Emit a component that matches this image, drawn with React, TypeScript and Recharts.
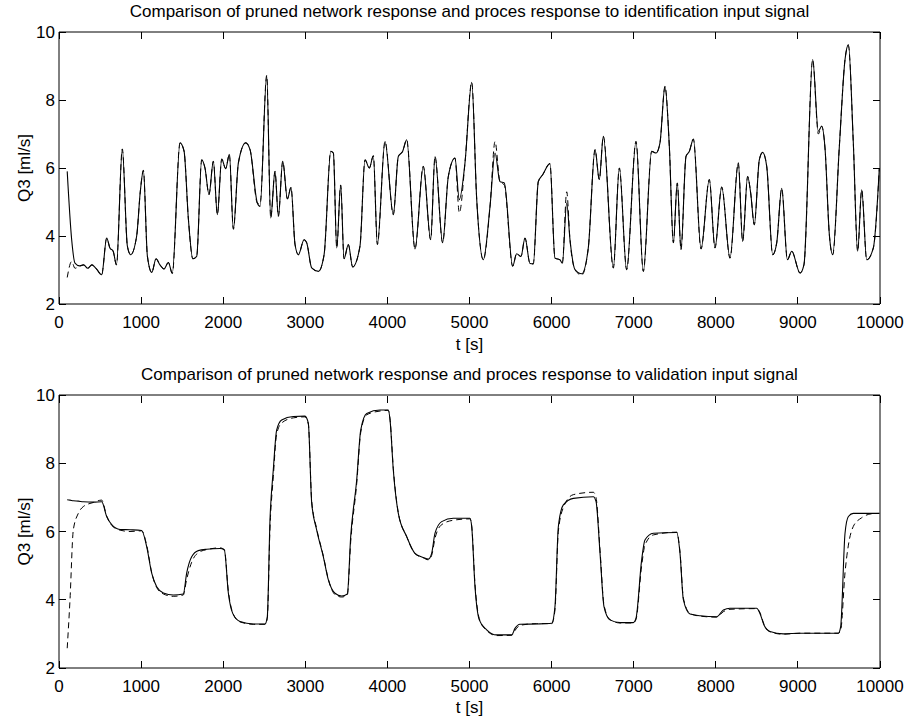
import React from 'react';
import { LineChart, Line, XAxis, YAxis, ReferenceArea } from 'recharts';

// identification input signal (top panel)
const tIdent = [
  100, 154, 195, 250, 300, 350, 400, 450, 520, 581,
  620, 660, 700, 771, 833, 873, 946, 990, 1028, 1077,
  1130, 1182, 1230, 1279, 1332, 1380, 1474, 1523, 1576, 1630,
  1677, 1738, 1778, 1827, 1880, 1929, 1982, 2030, 2075, 2124,
  2185, 2274, 2327, 2416, 2449, 2530, 2579, 2631, 2672, 2725,
  2782, 2826, 2875, 2916, 2985, 3017, 3078, 3160, 3229, 3310,
  3342, 3383, 3431, 3472, 3524, 3577, 3666, 3727, 3780, 3829,
  3878, 3971, 4072, 4133, 4186, 4235, 4336, 4437, 4527, 4580,
  4673, 4742, 4823, 4876, 4945, 5027, 5088, 5168, 5250, 5311,
  5371, 5424, 5526, 5574, 5627, 5676, 5737, 5777, 5838, 5891,
  5980, 6041, 6102, 6131, 6184, 6224, 6285, 6367, 6447, 6529,
  6581, 6630, 6752, 6825, 6914, 7028, 7117, 7219, 7272, 7320,
  7381, 7434, 7483, 7531, 7576, 7637, 7678, 7727, 7820, 7921,
  7990, 8072, 8173, 8274, 8327, 8388, 8425, 8469, 8530, 8571,
  8620, 8693, 8742, 8803, 8872, 8925, 9026, 9074, 9180, 9249,
  9290, 9330, 9383, 9424, 9505, 9574, 9615, 9675, 9728, 9777,
  9838, 9919, 9992,
];

const procIdent = [
  5.9, 3.9, 3.2, 3.12, 3.15, 3.05, 3.15, 3.05, 2.86, 3.94,
  3.65, 3.55, 3.15, 6.56, 3.7, 3.45, 4.0, 5.3, 5.93, 3.4,
  2.93, 3.33, 3.15, 3.03, 3.22, 2.9, 6.74, 6.5, 4.5, 3.33,
  3.4, 6.24, 6.0, 5.22, 6.2, 4.63, 6.26, 5.98, 6.4, 4.2,
  6.15, 6.74, 6.54, 4.97, 4.87, 8.72, 4.53, 5.9, 4.58, 6.2,
  5.09, 5.43, 3.75, 3.45, 3.89, 3.8, 3.06, 2.96, 3.45, 6.49,
  6.44, 3.65, 5.5, 3.33, 3.75, 3.09, 3.7, 6.24, 6.0, 6.36,
  3.75, 6.78, 4.63, 6.34, 6.49, 6.83, 3.62, 6.05, 3.89, 6.34,
  3.8, 5.75, 6.29, 5.07, 6.15, 8.52, 5.07, 3.3, 4.87, 6.44,
  5.6, 5.56, 3.11, 3.48, 3.4, 3.94, 3.19, 3.18, 5.6, 5.8,
  6.13, 3.35, 3.3, 3.2, 4.97, 3.89, 3.01, 2.89, 3.65, 6.54,
  5.66, 6.93, 3.06, 6.0, 3.01, 6.78, 2.96, 6.49, 6.44, 6.74,
  8.4, 6.64, 3.8, 5.56, 3.6, 6.34, 6.49, 6.85, 3.62, 5.66,
  3.65, 5.44, 3.35, 6.15, 3.84, 5.75, 5.26, 4.33, 6.24, 6.46,
  6.05, 3.45, 3.8, 5.4, 3.3, 3.55, 2.91, 3.16, 9.19, 7.08,
  7.23, 6.59, 4.04, 3.45, 6.64, 9.19, 9.63, 6.74, 3.55, 5.36,
  3.3, 3.65, 6.0,
];

const netIdent = [
  2.78, 3.25, 3.05, 3.12, 3.15, 3.05, 3.15, 3.05, 2.86, 3.94,
  3.65, 3.55, 3.15, 6.56, 3.7, 3.45, 4.0, 5.3, 5.93, 3.4,
  2.93, 3.33, 3.15, 3.03, 3.22, 2.9, 6.74, 6.5, 4.5, 3.33,
  3.4, 6.24, 6.0, 5.22, 6.2, 4.63, 6.26, 5.98, 6.4, 4.2,
  6.15, 6.74, 6.54, 4.97, 4.95, 8.72, 4.53, 5.9, 4.58, 6.2,
  5.09, 5.43, 3.75, 3.45, 3.89, 3.8, 3.06, 2.96, 3.45, 6.49,
  6.44, 3.65, 5.5, 3.33, 3.75, 3.09, 3.7, 6.24, 6.0, 6.36,
  3.75, 6.78, 4.63, 6.34, 6.49, 6.83, 3.62, 6.05, 3.89, 6.34,
  3.8, 5.75, 6.29, 4.68, 6.15, 8.52, 5.07, 3.3, 4.87, 6.78,
  5.6, 5.5, 3.11, 3.48, 3.4, 3.94, 3.19, 3.18, 5.6, 5.8,
  6.13, 3.35, 3.3, 3.2, 5.3, 3.89, 3.01, 2.85, 3.65, 6.54,
  5.66, 6.93, 3.06, 6.0, 3.01, 6.78, 2.96, 6.49, 6.44, 6.74,
  8.4, 6.64, 3.8, 5.56, 3.6, 6.34, 6.49, 6.85, 3.62, 5.66,
  3.65, 5.44, 3.35, 6.15, 3.84, 5.75, 5.26, 4.33, 6.24, 6.46,
  6.05, 3.45, 3.8, 5.4, 3.3, 3.55, 2.91, 3.16, 9.19, 7.0,
  7.23, 6.59, 4.04, 3.45, 6.64, 9.19, 9.6, 6.74, 3.55, 5.36,
  3.3, 3.65, 6.0,
];

// validation input signal (bottom panel)
const tValid = [
  100, 134, 174, 235, 296, 418, 520, 581, 642, 743,
  865, 1007, 1068, 1129, 1190, 1271, 1392, 1514, 1555, 1616,
  1697, 1798, 1961, 2014, 2063, 2116, 2205, 2367, 2509, 2537,
  2570, 2610, 2651, 2712, 2854, 2996, 3037, 3078, 3139, 3220,
  3281, 3362, 3443, 3512, 3553, 3626, 3675, 3748, 3910, 4011,
  4032, 4072, 4133, 4235, 4336, 4437, 4498, 4539, 4580, 4661,
  4803, 5006, 5027, 5067, 5119, 5209, 5331, 5514, 5554, 5615,
  5818, 6001, 6041, 6082, 6143, 6265, 6508, 6541, 6590, 6638,
  6711, 6833, 6995, 7028, 7097, 7137, 7239, 7524, 7564, 7605,
  7686, 7808, 8011, 8092, 8173, 8498, 8538, 8587, 8660, 8822,
  9026, 9493, 9521, 9574, 9615, 9675, 9775, 9900, 9992,
];

const procValid = [
  6.93, 6.92, 6.9, 6.89, 6.87, 6.86, 6.87, 6.44, 6.2, 6.06,
  6.05, 6.03, 5.56, 4.78, 4.38, 4.2, 4.14, 4.17, 4.78, 5.26,
  5.44, 5.48, 5.5, 5.46, 4.19, 3.6, 3.36, 3.29, 3.29, 3.5,
  6.34, 7.8, 8.97, 9.27, 9.37, 9.38, 9.17, 6.83, 6.04, 5.26,
  4.58, 4.19, 4.11, 4.17, 5.85, 7.51, 8.97, 9.46, 9.56, 9.56,
  9.27, 7.8, 6.53, 5.85, 5.36, 5.24, 5.19, 5.36, 5.95, 6.29,
  6.39, 6.39, 6.14, 4.38, 3.41, 3.12, 2.97, 2.97, 3.16, 3.28,
  3.29, 3.31, 3.8, 6.14, 6.78, 6.97, 7.02, 6.88, 5.36, 3.8,
  3.41, 3.33, 3.33, 3.46, 5.17, 5.75, 5.95, 5.97, 5.36, 4.0,
  3.58, 3.53, 3.5, 3.7, 3.75, 3.75, 3.6, 3.26, 3.07, 3.0,
  3.02, 3.02, 3.21, 5.95, 6.44, 6.53, 6.53, 6.53, 6.53,
];

const netValid = [
  2.58, 4.0, 6.04, 6.53, 6.73, 6.85, 6.92, 6.45, 6.18, 6.04,
  6.0, 6.02, 5.6, 4.8, 4.36, 4.17, 4.1, 4.14, 4.6, 5.1,
  5.38, 5.47, 5.52, 5.47, 4.25, 3.62, 3.35, 3.28, 3.28, 3.45,
  6.1, 7.6, 8.85, 9.18, 9.33, 9.36, 9.15, 6.9, 6.08, 5.28,
  4.6, 4.15, 4.08, 4.14, 5.7, 7.4, 8.9, 9.42, 9.53, 9.55,
  9.3, 7.85, 6.55, 5.85, 5.35, 5.23, 5.17, 5.3, 5.8, 6.2,
  6.33, 6.37, 6.16, 4.45, 3.45, 3.1, 2.95, 2.96, 3.1, 3.25,
  3.3, 3.3, 3.7, 6.0, 6.7, 7.08, 7.15, 7.0, 5.45, 3.85,
  3.42, 3.32, 3.32, 3.42, 5.0, 5.6, 5.9, 5.98, 5.4, 4.05,
  3.6, 3.52, 3.49, 3.65, 3.72, 3.74, 3.62, 3.28, 3.06, 2.99,
  3.02, 3.02, 3.1, 4.8, 5.6, 6.15, 6.4, 6.52, 6.53,
];

const xTicks = [0, 1000, 2000, 3000, 4000, 5000, 6000, 7000, 8000, 9000, 10000];
const yTicks = [2, 4, 6, 8, 10];

const titleIdent = 'Comparison of pruned network response and proces response to identification input signal';
const titleValid = 'Comparison of pruned network response and proces response to validation input signal';

const FONT = '"Liberation Sans", Arial, Helvetica, sans-serif';
const FS = 17;
const PLOT_LEFT = 59;
const PLOT_W = 821;
const PLOT_H = 272;
const TICK = 7;
const X_GAP = 12;
const Y_GAP = 4;

const XTick = (props: any) => {
  const { x, y, payload } = props;
  const ay = y - X_GAP;
  return (
    <g>
      <line x1={x} x2={x} y1={ay} y2={ay - TICK} stroke="#000" shapeRendering="crispEdges" />
      <line x1={x} x2={x} y1={ay - PLOT_H} y2={ay - PLOT_H + TICK} stroke="#000" shapeRendering="crispEdges" />
      <text x={x} y={y} dy="0.72em" textAnchor="middle" fontSize={FS} fontFamily={FONT} fill="#000">
        {payload.value}
      </text>
    </g>
  );
};

const YTick = (props: any) => {
  const { x, y, payload } = props;
  const ax = x + Y_GAP;
  return (
    <g>
      <line x1={ax} x2={ax + TICK} y1={y} y2={y} stroke="#000" shapeRendering="crispEdges" />
      <line x1={ax + PLOT_W} x2={ax + PLOT_W - TICK} y1={y} y2={y} stroke="#000" shapeRendering="crispEdges" />
      <text x={x} y={y} dy="0.36em" textAnchor="end" fontSize={FS} fontFamily={FONT} fill="#000">
        {payload.value}
      </text>
    </g>
  );
};

const YLabel = (props: any) => {
  const vb = props.viewBox || { y: 0, height: 0 };
  const cy = vb.y + vb.height / 2;
  return (
    <text
      x={24}
      y={cy}
      transform={`rotate(-90 24 ${cy})`}
      textAnchor="middle"
      dy="0.36em"
      fontSize={FS}
      fontFamily={FONT}
      fill="#000"
    >
      Q3 [ml/s]
    </text>
  );
};

type PanelProps = {
  top: number;
  title: string;
  titleY: number;
  t: number[];
  proc: number[];
  net: number[];
  margin: { top: number; right: number; bottom: number; left: number };
  labelOffset: number;
};

const Panel = ({ top, title, titleY, t, proc, net, margin, labelOffset }: PanelProps) => {
  const data = t.map((tt, i) => ({ t: tt, proc: proc[i], net: net[i] }));
  return (
    <div style={{ position: 'absolute', left: 0, top, width: 908, height: 361 }}>
      <div
        style={{
          position: 'absolute',
          left: PLOT_LEFT - 100,
          width: PLOT_W + 200,
          top: titleY - 11,
          height: 22,
          lineHeight: '22px',
          textAlign: 'center',
          fontFamily: FONT,
          fontSize: FS,
          color: '#000',
          whiteSpace: 'nowrap',
        }}
      >
        {title}
      </div>
      <LineChart width={908} height={361} data={data} margin={margin}>
        <XAxis
          dataKey="t"
          type="number"
          domain={[0, 10000]}
          ticks={xTicks}
          interval={0}
          height={50}
          tickSize={0}
          tickMargin={X_GAP}
          tickLine={false}
          axisLine={false}
          tick={<XTick />}
          label={{ value: 't [s]', position: 'insideBottom', offset: labelOffset, fontSize: FS, fontFamily: FONT, fill: '#000' }}
        />
        <YAxis
          type="number"
          domain={[2, 10]}
          ticks={yTicks}
          interval={0}
          width={30}
          tickSize={0}
          tickMargin={Y_GAP}
          tickLine={false}
          axisLine={false}
          tick={<YTick />}
          label={<YLabel />}
        />
        <ReferenceArea x1={0} x2={10000} y1={2} y2={10} fill="none" stroke="#000" strokeWidth={1} />
        <Line
          type="monotoneX"
          dataKey="net"
          stroke="#000"
          strokeWidth={1}
          strokeDasharray="6 4"
          dot={false}
          isAnimationActive={false}
        />
        <Line type="monotoneX" dataKey="proc" stroke="#000" strokeWidth={1.1} dot={false} isAnimationActive={false} />
      </LineChart>
    </div>
  );
};

export default function App() {
  return (
    <div style={{ position: 'absolute', left: 0, top: 0, width: 908, height: 722, background: '#fff' }}>
      <Panel
        top={0}
        title={titleIdent}
        titleY={12}
        t={tIdent}
        proc={procIdent}
        net={netIdent}
        margin={{ top: 32, right: 28, bottom: 7, left: 29 }}
        labelOffset={4}
      />
      <Panel
        top={361}
        title={titleValid}
        titleY={14}
        t={tValid}
        proc={procValid}
        net={netValid}
        margin={{ top: 34, right: 28, bottom: 4, left: 29 }}
        labelOffset={5}
      />
    </div>
  );
}
